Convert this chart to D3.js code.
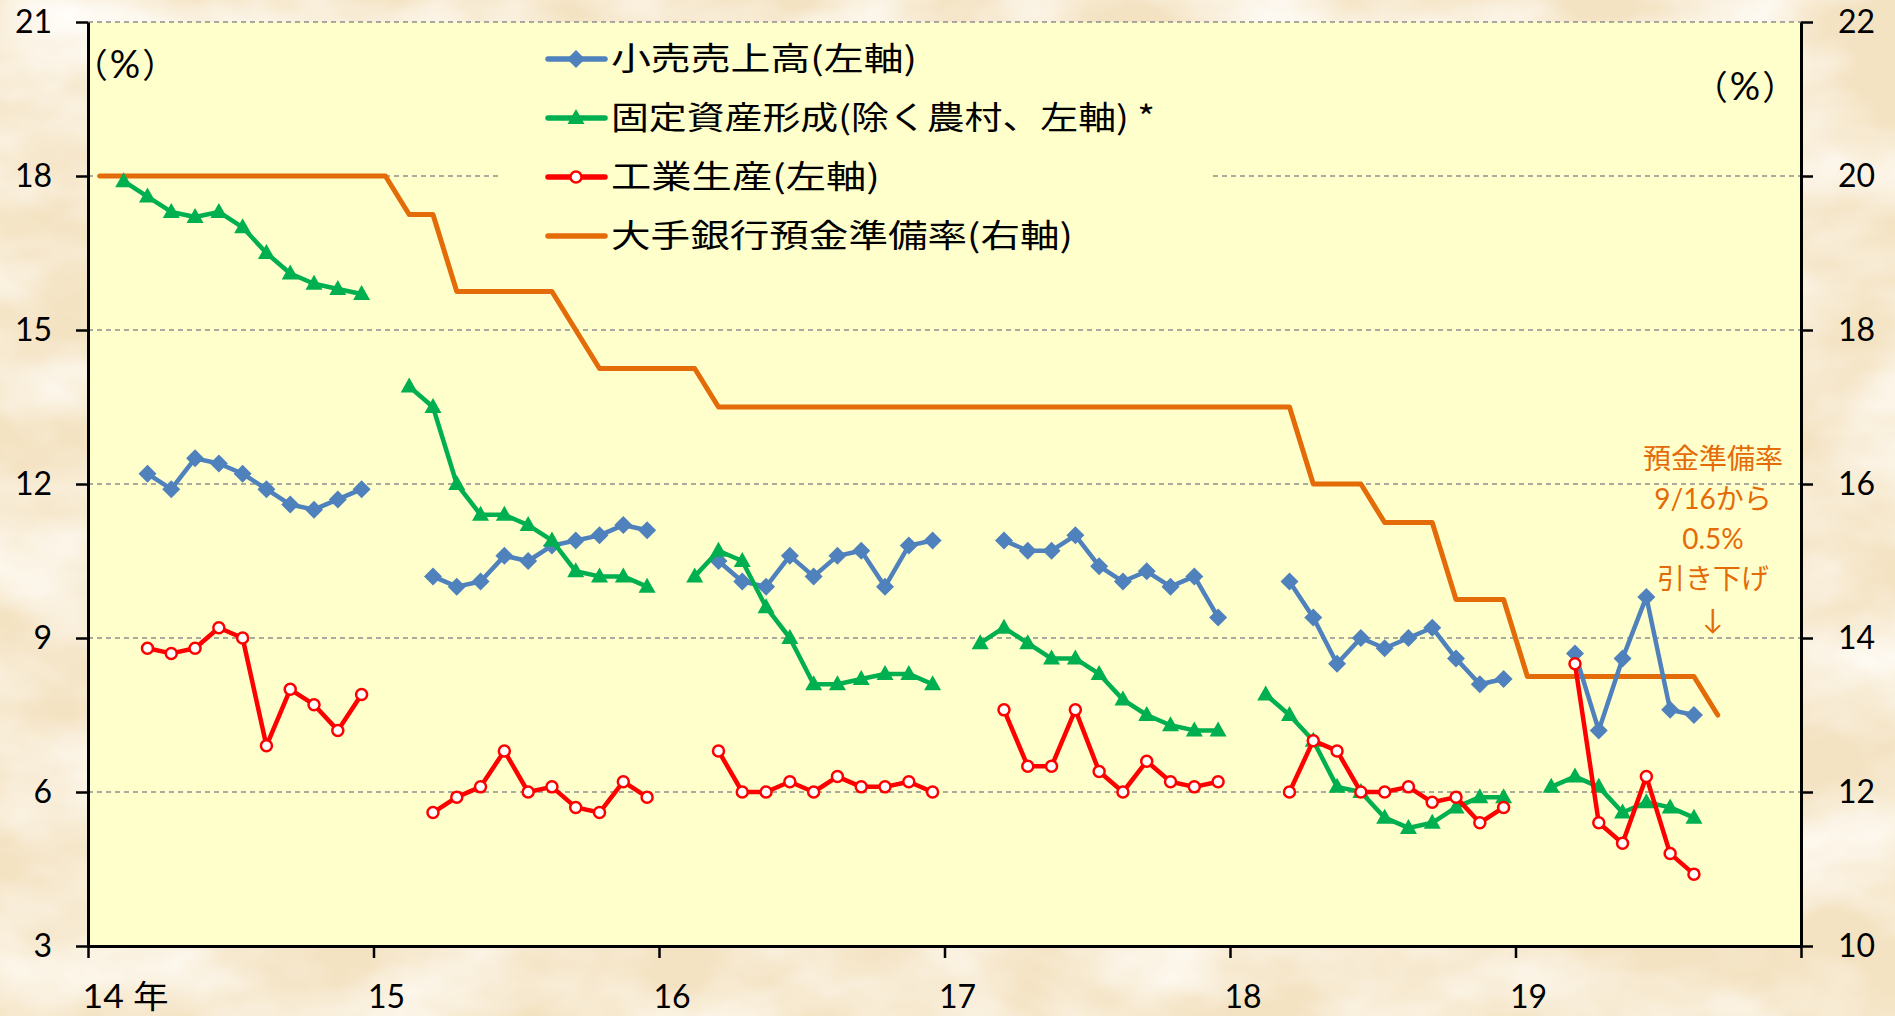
<!DOCTYPE html>
<html>
<head>
<meta charset="utf-8">
<script src="https://cdn.jsdelivr.net/npm/d3@7"></script>
<style>
  html, body { margin: 0; padding: 0; overflow: hidden; }
  svg { display: block; font-family: "Noto Sans CJK JP", "Noto Sans", sans-serif; }
</style>
</head>
<body>
<script>
// size of the page
var w = 1895;
var h = 1016;

// year labels on the bottom axis (first one carries the unit)
const yearLabels = ["14 年", "15", "16", "17", "18", "19"];
const firstYear = 2014;

// monthly data, one array per year. retail + industry start in March, investment in Feb (Jan-Feb combined)
const retailStart = 2;   // month index of first value in each year
const retail = [
    [12.2, 11.9, 12.5, 12.4, 12.2, 11.9, 11.6, 11.5, 11.7, 11.9],
    [10.2, 10.0, 10.1, 10.6, 10.5, 10.8, 10.9, 11.0, 11.2, 11.1],
    [10.5, 10.1, 10.0, 10.6, 10.2, 10.6, 10.7, 10.0, 10.8, 10.9],
    [10.9, 10.7, 10.7, 11.0, 10.4, 10.1, 10.3, 10.0, 10.2, 9.4],
    [10.1, 9.4, 8.5, 9.0, 8.8, 9.0, 9.2, 8.6, 8.1, 8.2],
    [8.7, 7.2, 8.6, 9.8, 7.6, 7.5]
];

const investStart = 1;
const investment = [
    [17.9, 17.6, 17.3, 17.2, 17.3, 17.0, 16.5, 16.1, 15.9, 15.8, 15.7],
    [13.9, 13.5, 12.0, 11.4, 11.4, 11.2, 10.9, 10.3, 10.2, 10.2, 10.0],
    [10.2, 10.7, 10.5, 9.6, 9.0, 8.1, 8.1, 8.2, 8.3, 8.3, 8.1],
    [8.9, 9.2, 8.9, 8.6, 8.6, 8.3, 7.8, 7.5, 7.3, 7.2, 7.2],
    [7.9, 7.5, 7.0, 6.1, 6.0, 5.5, 5.3, 5.4, 5.7, 5.9, 5.9],
    [6.1, 6.3, 6.1, 5.6, 5.8, 5.7, 5.5]
];

const industryStart = 2;
const industry = [
    [8.8, 8.7, 8.8, 9.2, 9.0, 6.9, 8.0, 7.7, 7.2, 7.9],
    [5.6, 5.9, 6.1, 6.8, 6.0, 6.1, 5.7, 5.6, 6.2, 5.9],
    [6.8, 6.0, 6.0, 6.2, 6.0, 6.3, 6.1, 6.1, 6.2, 6.0],
    [7.6, 6.5, 6.5, 7.6, 6.4, 6.0, 6.6, 6.2, 6.1, 6.2],
    [6.0, 7.0, 6.8, 6.0, 6.0, 6.1, 5.8, 5.9, 5.4, 5.7],
    [8.5, 5.4, 5.0, 6.3, 4.8, 4.4]
];

// reserve requirement ratio, monthly from Jan 2014 (right axis)
const reserveRatio = [
    20, 20, 20, 20, 20, 20, 20, 20, 20, 20, 20, 20,
    20, 19.5, 19.5, 18.5, 18.5, 18.5, 18.5, 18.5, 18, 17.5, 17.5, 17.5,
    17.5, 17.5, 17, 17, 17, 17, 17, 17, 17, 17, 17, 17,
    17, 17, 17, 17, 17, 17, 17, 17, 17, 17, 17, 17,
    17, 17, 17, 16, 16, 16, 15.5, 15.5, 15.5, 14.5, 14.5, 14.5,
    13.5, 13.5, 13.5, 13.5, 13.5, 13.5, 13.5, 13.5, 13
];

// axis ticks
const leftTicks = [3, 6, 9, 12, 15, 18, 21];
const rightTicks = [10, 12, 14, 16, 18, 20, 22];

// legend + note text
const legendNames = ["小売売上高(左軸)", "固定資産形成(除く農村、左軸) *", "工業生産(左軸)", "大手銀行預金準備率(右軸)"];
const noteLines = ["預金準備率", "9/16から", "0.5%", "引き下げ", "↓"];

// colours
const blue = "#4F81BD", green = "#00B050", red = "#FF0000", orange = "#E36C09";

// fonts: Lato stands in for Calibri digits
const numFont = "Lato, 'Noto Sans CJK JP', sans-serif";

// plot box
const plotL = 88, plotR = 1801, plotT = 22, plotB = 946;

// month categories
const months = [];
yearLabels.forEach((y, i) => { for (let m = 0; m < 12; m++) months.push((firstYear + i) + "-" + m); });

const xScale = d3.scaleBand().domain(months).range([plotL, plotR]).padding(0);
const xMid = key => xScale(key) + xScale.bandwidth() / 2;
const yearScale = d3.scaleLinear().domain([firstYear, firstYear + yearLabels.length]).range([plotL, plotR]);

const yLeft = d3.scaleLinear().domain([3, 21]).range([plotB, plotT]);
const yRight = d3.scaleLinear().domain([10, 22]).range([plotB, plotT]);

const svg = d3.select("body").append("svg").attr("width", w).attr("height", h);

// parchment background
const defs = svg.append("defs");
const paper = defs.append("filter").attr("id", "paper")
    .attr("x", 0).attr("y", 0).attr("width", "100%").attr("height", "100%");
paper.append("feTurbulence").attr("type", "fractalNoise")
    .attr("baseFrequency", "0.006 0.01").attr("numOctaves", 4).attr("seed", 5);
paper.append("feColorMatrix").attr("type", "matrix")
    .attr("values", "0 0 0 0 1  0 0 0 0 0.98  0 0 0 0 0.94  1.8 0 0 0 -0.6");

svg.append("rect").attr("width", w).attr("height", h).attr("fill", "#F4E3C3");
svg.append("rect").attr("width", w).attr("height", h).attr("filter", "url(#paper)");

// plot area
svg.append("rect")
    .attr("x", plotL).attr("y", plotT)
    .attr("width", plotR - plotL).attr("height", plotB - plotT)
    .attr("fill", "#FFFFCC");

// grid lines
svg.append("g").selectAll("line")
    .data(leftTicks.slice(1))
    .join("line")
    .attr("x1", plotL).attr("x2", plotR)
    .attr("y1", d => yLeft(d)).attr("y2", d => yLeft(d))
    .attr("stroke", "#8E8E8E").attr("stroke-width", 1.5).attr("stroke-dasharray", "5,4");

// legend background hides part of the grid
svg.append("rect")
    .attr("x", 498).attr("y", 30).attr("width", 714).attr("height", 232)
    .attr("fill", "#FFFFCC");

// marker shapes
const diamond = "M0,-9L9,0L0,9L-9,0Z";
const triangle = "M0,-9L8.5,6L-8.5,6Z";

function drawMarker(g, kind, color) {
    if (kind === "diamond") g.append("path").attr("d", diamond).attr("fill", color);
    else if (kind === "triangle") g.append("path").attr("d", triangle).attr("fill", color);
    else if (kind === "circle") g.append("circle").attr("r", 5.5).attr("fill", "#fff").attr("stroke", color).attr("stroke-width", 2.5);
}

const line = d3.line().x(d => d.x).y(d => d.y);

// orange step line first (underneath)
const rrPts = reserveRatio.map((v, i) => ({ x: xMid(months[i]), y: yRight(v) }));
svg.append("path")
    .attr("d", line(rrPts))
    .attr("fill", "none").attr("stroke", orange).attr("stroke-width", 5)
    .attr("stroke-linejoin", "round").attr("stroke-linecap", "round");

// the three monthly series, one segment per year
function drawSeries(data, start, color, kind) {
    const g = svg.append("g");
    data.forEach((yr, yi) => {
        const pts = yr.map((v, i) => ({
            x: xMid((firstYear + yi) + "-" + (start + i)),
            y: yLeft(v)
        }));
        g.append("path")
            .attr("d", line(pts))
            .attr("fill", "none").attr("stroke", color).attr("stroke-width", 4.5)
            .attr("stroke-linejoin", "round");
        pts.forEach(p => {
            const m = g.append("g").attr("transform", `translate(${p.x},${p.y})`);
            drawMarker(m, kind, color);
        });
    });
}

drawSeries(retail, retailStart, blue, "diamond");
drawSeries(investment, investStart, green, "triangle");
drawSeries(industry, industryStart, red, "circle");

// axes
const axL = svg.append("g").attr("transform", `translate(${plotL},0)`)
    .call(d3.axisLeft(yLeft).tickValues(leftTicks).tickSize(12).tickSizeOuter(0).tickPadding(24));
const axR = svg.append("g").attr("transform", `translate(${plotR},0)`)
    .call(d3.axisRight(yRight).tickValues(rightTicks).tickSize(12).tickSizeOuter(0).tickPadding(25));
const axB = svg.append("g").attr("transform", `translate(0,${plotB})`)
    .call(d3.axisBottom(yearScale)
        .tickValues(d3.range(firstYear, firstYear + yearLabels.length + 1))
        .tickSize(12).tickSizeOuter(0).tickPadding(27)
        .tickFormat((d, i) => yearLabels[i] || ""));

[axL, axR, axB].forEach(ax => {
    ax.select(".domain").attr("stroke", "#000").attr("stroke-width", 3);
    ax.selectAll(".tick line").attr("stroke", "#000").attr("stroke-width", 2.5);
    ax.selectAll(".tick text").attr("fill", "#000")
        .style("font-size", "32px").style("font-family", numFont);
});
axB.selectAll(".tick text").attr("text-anchor", "start").attr("x", -6);
// first label: wider gap and a bigger 年, as in the original
axB.select(".tick text").attr("textLength", 86).attr("lengthAdjust", "spacingAndGlyphs");

// unit labels
[[125, 78], [1745, 100]].forEach(([ux, uy]) => {
    const t = svg.append("text").attr("x", ux).attr("y", uy)
        .attr("text-anchor", "middle")
        .style("font-size", "34px");
    t.append("tspan").text("（");
    t.append("tspan").attr("dx", 2).style("font-family", numFont).style("font-size", "38px").text("%");
    t.append("tspan").attr("dx", 2).text("）");
});

// legend
const legendItems = [
    { name: legendNames[0], color: blue, kind: "diamond", len: 306 },
    { name: legendNames[1], color: green, kind: "triangle", len: 544 },
    { name: legendNames[2], color: red, kind: "circle", len: 269 },
    { name: legendNames[3], color: orange, kind: null, len: 462 }
];
const lg = svg.append("g");
legendItems.forEach((d, i) => {
    const yy = 59 + i * 59;
    lg.append("line").attr("x1", 548).attr("x2", 605).attr("y1", yy).attr("y2", yy)
        .attr("stroke", d.color).attr("stroke-width", 5.5).attr("stroke-linecap", "round");
    if (d.kind) drawMarker(lg.append("g").attr("transform", `translate(576,${yy})`), d.kind, d.color);
    lg.append("text").attr("x", 611).attr("y", yy + 11)
        .attr("textLength", d.len).attr("lengthAdjust", "spacingAndGlyphs")
        .style("font-size", "32px").attr("fill", "#000").text(d.name);
});

// note about the Sept cut
svg.append("g").selectAll("text")
    .data(noteLines)
    .join("text")
    .attr("x", 1713)
    .attr("y", (d, i) => 469 + i * 40)
    .attr("text-anchor", "middle")
    .attr("fill", orange)
    .style("font-size", "28px")
    .style("font-family", numFont)
    .text(d => d);
</script>
</body>
</html>
